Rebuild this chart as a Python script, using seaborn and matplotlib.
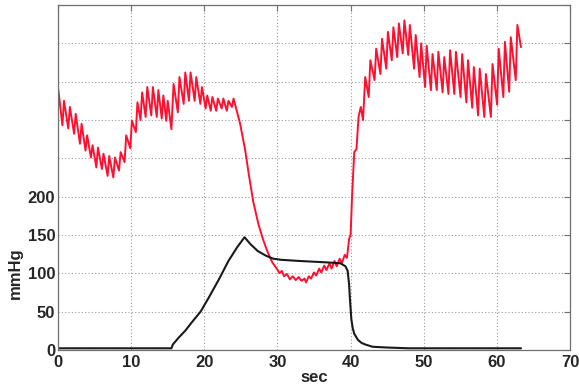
import matplotlib
matplotlib.use("Agg")
import matplotlib.pyplot as plt
import seaborn as sns
import pandas as pd

# Arterial pressure trace (vertices of the pulsatile waveform), seconds / mmHg
arterial_t = [
    0.05, 0.6, 0.82, 1.4, 1.62, 2.2, 2.42, 3.0, 3.22, 3.76, 3.98, 4.5, 4.72,
    5.24, 5.46, 6.0, 6.22, 6.78, 7.0, 7.56, 7.78, 8.34, 8.56, 9.1, 9.32,
    9.88, 10.1, 10.64, 10.86, 11.28, 11.5, 11.98, 12.2, 12.75, 12.97,
    13.5, 13.72, 14.18, 14.4, 14.8, 15.0, 15.5, 15.8, 16.38, 16.6,
    17.18, 17.4, 17.9, 18.12, 18.68, 18.9, 19.46, 19.68, 20.18, 20.4,
    20.88, 21.1, 21.63, 21.85, 22.38, 22.6, 23.08, 23.3, 23.78, 24.0,
    24.9, 25.6, 26.1, 26.7, 27.4, 28.0, 28.6, 29.3, 29.9,
    30.3, 30.6, 30.9, 31.3, 31.7, 32.1, 32.5, 32.9, 33.3, 33.7, 33.9, 34.3, 34.6,
    35.0, 35.3, 35.7, 36.0, 36.4, 36.7, 37.1, 37.4, 37.8, 38.1, 38.5, 38.8, 39.2,
    39.5, 39.8, 40.0, 40.2, 40.5, 40.8, 41.1, 41.4, 41.7, 42.0,
    42.48, 42.7, 43.28, 43.5, 44.08, 44.3, 44.88, 45.1, 45.63, 45.85,
    46.38, 46.6, 47.13, 47.35, 47.88, 48.1, 48.68, 48.9, 49.43, 49.65,
    50.18, 50.4, 50.98, 51.2, 51.78, 52.0, 52.58, 52.8, 53.38, 53.6,
    54.18, 54.4, 55.03, 55.25, 55.83, 56.05, 56.63, 56.85, 57.43, 57.65,
    58.28, 58.5, 59.18, 59.4, 60.03, 60.25, 60.88, 61.1, 61.68, 61.9,
    62.58, 62.8, 63.3,
]
arterial_p = [
    339, 293, 325, 289, 317, 282, 308, 269, 295, 260, 280, 251, 267,
    238, 264, 236, 256, 227, 253, 225, 251, 234, 258, 245, 280,
    263, 299, 284, 323, 300, 336, 304, 343, 306, 343,
    304, 339, 302, 332, 299, 325, 288, 347, 310, 356,
    321, 362, 325, 362, 325, 356, 321, 343, 315, 332,
    312, 330, 312, 328, 315, 328, 312, 325, 317, 328,
    295, 260, 228, 193, 164, 145, 129, 114, 106,
    100, 103, 96, 99, 92, 96, 91, 95, 90, 93, 88, 96, 93,
    101, 97, 106, 101, 110, 104, 113, 106, 116, 109, 119, 113, 124,
    120, 145, 150, 200, 258, 262, 305, 317, 300, 356,
    330, 378, 352, 393, 360, 406, 367, 415, 378, 421,
    382, 426, 387, 430, 385, 424, 367, 411, 356, 400,
    343, 397, 339, 386, 339, 389, 336, 382, 334, 391,
    334, 389, 330, 386, 323, 378, 316, 369, 306, 367,
    304, 360, 304, 373, 320, 393, 330, 402, 337, 408,
    352, 424, 395,
]

# Cuff pressure trace
cuff_t = [0, 15.5, 15.7, 16.5, 17.4, 18.3, 19.5, 20.6, 22.0, 23.3, 24.5, 25.5,
          26.3, 27.3, 28.4, 29.4, 30.5, 33, 35, 37, 38.6,
          39.3, 39.6, 39.8, 39.9, 40.1, 40.3, 40.5, 41.0, 41.5, 42.0, 43, 45, 48, 63.3]
cuff_p = [2, 2, 7, 16, 25, 36, 50, 68, 92, 116, 134, 147,
          138, 129, 123, 119, 117.5, 116, 115, 114, 113,
          109, 103, 85, 68, 40, 28, 21, 13, 9, 7, 4, 3, 2, 2]

x_ticks = [0, 10, 20, 30, 40, 50, 60, 70]
y_ticks = [0, 50, 100, 150, 200, 250, 300, 350, 400, 450]
y_labels = ["0", "50", "100", "150", "200", "", "", "", "", ""]

sns.set_theme(style="white")
plt.rcParams["font.family"] = ["Liberation Sans", "DejaVu Sans"]

fig = plt.figure(figsize=(5.79, 3.90), dpi=100)
ax = fig.add_axes([0.1002, 0.103, 0.8843, 0.884])

art = pd.DataFrame({"t": arterial_t, "p": arterial_p})
cuff = pd.DataFrame({"t": cuff_t, "p": cuff_p})

sns.lineplot(data=art, x="t", y="p", ax=ax, color="#ff1030", linewidth=1.4,
             estimator=None, sort=False)
sns.lineplot(data=cuff, x="t", y="p", ax=ax, color="#1a1a1a", linewidth=1.5,
             estimator=None, sort=False)

ax.set_xlim(0, 70)
ax.set_ylim(0, 450)
ax.set_xticks(x_ticks)
ax.set_xticklabels([str(v) for v in x_ticks])
ax.set_yticks(y_ticks)
ax.set_yticklabels(y_labels)

ax.grid(True, color="#9a9a9a", linestyle=(0, (1, 2)), linewidth=0.8)
ax.set_axisbelow(True)

for s in ax.spines.values():
    s.set_visible(True)
    s.set_color("#707070")
    s.set_linewidth(0.9)

ax.tick_params(direction="in", length=4, width=0.8, color="#707070",
               top=True, right=True, labelsize=12)
ax.tick_params(axis="x", pad=4)
ax.tick_params(axis="y", pad=2)
for lab in ax.get_xticklabels() + ax.get_yticklabels():
    lab.set_fontweight("bold")

ax.set_xlabel("sec", fontsize=12, fontweight="bold", labelpad=0)
ax.set_ylabel("mmHg", fontsize=12, fontweight="bold")
ax.yaxis.set_label_coords(-0.068, 100 / 450)

fig.savefig("out.png", dpi=100, facecolor="white")
